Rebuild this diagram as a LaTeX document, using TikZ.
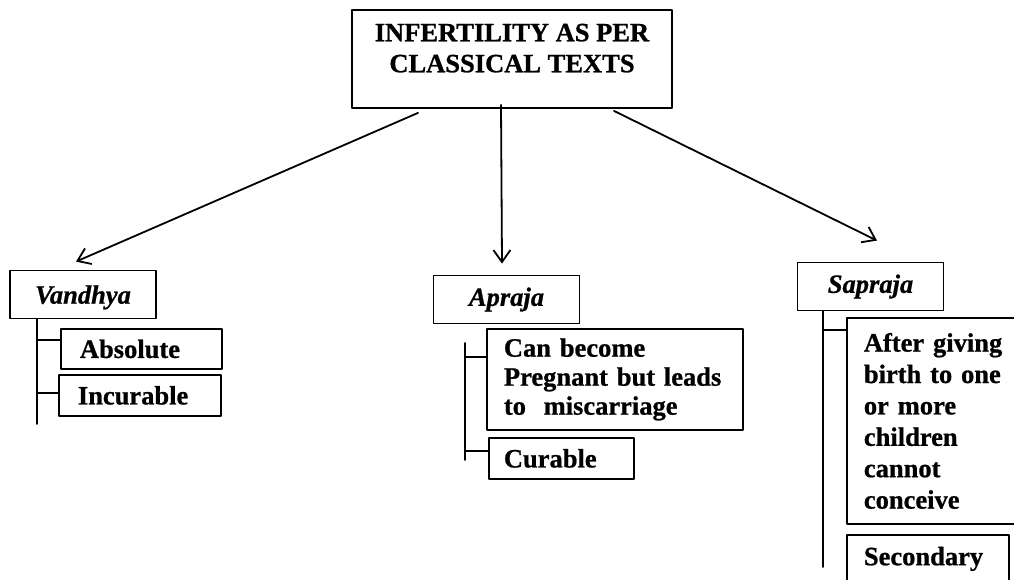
\documentclass[tikz,border=0pt]{standalone}
\usepackage{fontspec}
\setmainfont{Liberation Serif}[BoldFeatures={FakeBold=0.8},BoldItalicFeatures={FakeBold=0.8}]
\usepackage{tikz}
\usetikzlibrary{arrows.meta}

\begin{document}
\begin{tikzpicture}[x=1pt,y=-1pt,line cap=round,line join=round,
  >={Straight Barb[length=12pt,width=17pt]},
  every node/.style={font=\fontsize{26.5}{31}\selectfont\bfseries},
  titlebox/.style={draw,line width=1.8pt,align=center,inner sep=0pt},
  catbox/.style={draw,line width=1.8pt,inner sep=0pt,minimum width=146pt,minimum height=48pt,
    font=\fontsize{26.5}{31}\selectfont\bfseries\itshape},
  subbox/.style={draw,line width=1.8pt,align=left,anchor=north west,inner ysep=0pt},
  spine/.style={line width=1.8pt}]
\clip (0,0) rectangle (1014,580);
\useasboundingbox (0,0) rectangle (1014,580);
% top
\node[titlebox,minimum width=320pt,minimum height=98pt,text depth=22pt] (title) at (512,59)
  {INFERTILITY AS PER\\CLASSICAL TEXTS};
% the three kinds
\node[catbox,text depth=0pt] (vandhya) at (83,294.5) {Vandhya};
\node[catbox] (apraja) at (506.5,299.5) {Apraja};
\node[catbox] (sapraja) at (870.5,286.5) {Sapraja};
\draw[->,line width=1.8pt] ([shift={(-94,4)}]title.south) -- ([shift={(-7,-8)}]vandhya.north);
\draw[->,line width=1.8pt] ([shift={(-11,-4)}]title.south) -- ([shift={(-4.5,-11)}]apraja.north);
\draw[->,line width=1.8pt] ([shift={(102,2)}]title.south) -- ([shift={(6.5,-21)}]sapraja.north);
% Vandhya
\node[subbox,inner xsep=19pt,text width=123pt,minimum height=40pt] (absolute) at (60,328) {Absolute};
\node[subbox,inner xsep=19pt,text width=124pt,minimum height=41pt] (incurable) at (58,374) {Incurable};
\coordinate (vbot) at (37,424);
\coordinate (vt1) at (37,340);
\coordinate (vt2) at (37,393);
\draw[spine] (vandhya.south -| vbot) -- (vbot);
\draw[spine] (vt1) -- (vt1 -| absolute.west);
\draw[spine] (vt2) -- (vt2 -| incurable.west);
% Apraja
\node[subbox,inner xsep=17pt,text width=222pt,minimum height=101pt,
  font=\fontsize{26.5}{29}\selectfont\bfseries] (pregnant) at (486,328)
  {Can become\\Pregnant but leads\\to~ miscarriage};
\node[subbox,inner xsep=15pt,text width=115pt,minimum height=41pt] (curable) at (488,437) {Curable};
\coordinate (atop) at (465,343);
\coordinate (abot) at (465,460);
\coordinate (at1) at (465,357);
\coordinate (at2) at (465,451);
\draw[spine] (atop) -- (abot);
\draw[spine] (at1) -- (at1 -| pregnant.west);
\draw[spine] (at2) -- (at2 -| curable.west);
% Sapraja
\node[subbox,inner xsep=17pt,text width=160pt,minimum height=206pt,
  font=\fontsize{26.5}{31.4}\selectfont\bfseries] (afterbirth) at (846,317)
  {After giving\\birth to one\\or more\\children\\cannot\\conceive};
\node[subbox,inner xsep=17pt,text width=128pt,minimum height=48pt] (secondary) at (846,534) {Secondary};
\coordinate (sbot) at (823,567);
\coordinate (st1) at (823,330);
\draw[spine] (sapraja.south -| sbot) -- (sbot);
\draw[spine] (st1) -- (st1 -| afterbirth.west);
\end{tikzpicture}
\end{document}
